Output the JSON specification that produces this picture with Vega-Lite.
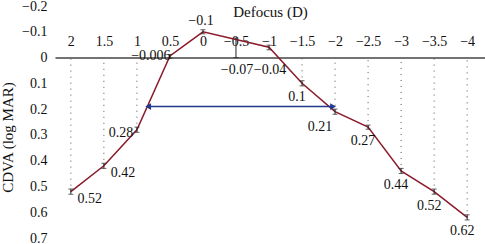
{
  "$schema": "https://vega.github.io/schema/vega-lite/v6.json",
  "width": 430,
  "height": 232,
  "autosize": "none",
  "padding": {"left": 55, "top": 6, "right": 0, "bottom": 6},
  "background": "white",
  "config": {
    "view": {"stroke": null},
    "font": "Liberation Serif",
    "text": {"font": "Liberation Serif", "fontSize": 14, "color": "#111"}
  },
  "resolve": {"axis": {"x": "independent", "y": "independent"}},
  "datasets": {
    "pts": [
      {"d": 2, "v": 0.52, "lo": 0.51, "hi": 0.53},
      {"d": 1.5, "v": 0.42, "lo": 0.41, "hi": 0.43},
      {"d": 1, "v": 0.28, "lo": 0.27, "hi": 0.29},
      {"d": 0.5, "v": -0.006, "lo": -0.012, "hi": 0.002},
      {"d": 0, "v": -0.1, "lo": -0.108, "hi": -0.092},
      {"d": -0.5, "v": -0.07, "lo": -0.076, "hi": 0},
      {"d": -1, "v": -0.04, "lo": -0.048, "hi": -0.03},
      {"d": -1.5, "v": 0.1, "lo": 0.09, "hi": 0.11},
      {"d": -2, "v": 0.21, "lo": 0.2, "hi": 0.22},
      {"d": -2.5, "v": 0.27, "lo": 0.262, "hi": 0.278},
      {"d": -3, "v": 0.44, "lo": 0.43, "hi": 0.45},
      {"d": -3.5, "v": 0.52, "lo": 0.51, "hi": 0.53},
      {"d": -4, "v": 0.62, "lo": 0.61, "hi": 0.63}
    ],
    "arrow": [{"x1": 0.83, "x2": -1.97, "y": 0.19}]
  },
  "layer": [
    {
      "data": {"name": "pts"},
      "mark": {"type": "line", "color": "#8B1A2B", "strokeWidth": 1.5},
      "encoding": {
        "x": {
          "field": "d", "type": "quantitative",
          "scale": {"domain": [2.24, -4.27], "nice": false, "zero": false},
          "axis": {
            "orient": "top", "offset": -51.6,
            "values": [2, 1.5, 1, 0.5, 0, -0.5, -1, -1.5, -2, -2.5, -3, -3.5, -4],
            "format": "~g", "grid": false, "ticks": false,
            "domainColor": "#444", "domainWidth": 1.5,
            "labelFont": "Liberation Serif", "labelFontSize": 14, "labelColor": "#111",
            "labelPadding": 9, "labelFlush": false, "labelOverlap": false,
            "title": "Defocus (D)", "titleFont": "Liberation Serif", "titleFontSize": 15,
            "titleFontWeight": "normal", "titleColor": "#111", "titlePadding": 15
          }
        },
        "y": {
          "field": "v", "type": "quantitative",
          "scale": {"domain": [-0.2, 0.7], "reverse": true, "nice": false, "zero": false},
          "axis": {
            "values": [-0.2, -0.1, 0, 0.1, 0.2, 0.3, 0.4, 0.5, 0.6, 0.7],
            "format": "~g", "grid": false, "ticks": false, "domain": false,
            "labelFont": "Liberation Serif", "labelFontSize": 14, "labelColor": "#111",
            "labelPadding": 8, "labelOverlap": false,
            "title": "CDVA (log MAR)", "titleFont": "Liberation Serif", "titleFontSize": 15,
            "titleFontWeight": "normal", "titleColor": "#111", "titlePadding": 6, "titleY": 131
          }
        }
      }
    },
    {
      "data": {"name": "pts"},
      "transform": [{"filter": "datum.v > 0"}],
      "mark": {"type": "rule", "color": "#555", "strokeDash": [1, 5], "strokeWidth": 1},
      "encoding": {
        "x": {"field": "d", "type": "quantitative", "axis": null},
        "y": {"field": "v", "type": "quantitative", "axis": null},
        "y2": {"datum": 0}
      }
    },
    {
      "data": {"name": "pts"},
      "mark": {"type": "rule", "color": "#222", "strokeWidth": 1},
      "encoding": {
        "x": {"field": "d", "type": "quantitative", "axis": null},
        "y": {"field": "lo", "type": "quantitative", "axis": null},
        "y2": {"field": "hi"}
      }
    },
    {
      "data": {"name": "pts"},
      "mark": {"type": "tick", "orient": "horizontal", "color": "#222", "size": 5, "thickness": 1},
      "encoding": {
        "x": {"field": "d", "type": "quantitative", "axis": null},
        "y": {"field": "lo", "type": "quantitative", "axis": null}
      }
    },
    {
      "data": {"name": "pts"},
      "mark": {"type": "tick", "orient": "horizontal", "color": "#222", "size": 5, "thickness": 1},
      "encoding": {
        "x": {"field": "d", "type": "quantitative", "axis": null},
        "y": {"field": "hi", "type": "quantitative", "axis": null}
      }
    },
    {
      "data": {"name": "arrow"},
      "mark": {"type": "rule", "color": "#1F3A8F", "strokeWidth": 1.5},
      "encoding": {
        "x": {"field": "x1", "type": "quantitative", "axis": null},
        "x2": {"field": "x2"},
        "y": {"field": "y", "type": "quantitative", "axis": null}
      }
    },
    {
      "data": {"name": "arrow"},
      "mark": {"type": "point", "shape": "triangle-left", "filled": true, "size": 45, "color": "#1F3A8F", "opacity": 1},
      "encoding": {
        "x": {"field": "x1", "type": "quantitative", "axis": null},
        "y": {"field": "y", "type": "quantitative", "axis": null}
      }
    },
    {
      "data": {"name": "arrow"},
      "mark": {"type": "point", "shape": "triangle-right", "filled": true, "size": 45, "color": "#1F3A8F", "opacity": 1},
      "encoding": {
        "x": {"field": "x2", "type": "quantitative", "axis": null},
        "y": {"field": "y", "type": "quantitative", "axis": null}
      }
    },
    {
      "data": {"name": "pts"},
      "transform": [{"filter": "datum.d == 2 || datum.d == 1.5"}],
      "mark": {"type": "text", "dx": 19, "dy": 7},
      "encoding": {
        "x": {"field": "d", "type": "quantitative", "axis": null},
        "y": {"field": "v", "type": "quantitative", "axis": null},
        "text": {"field": "v", "type": "quantitative", "format": "~g"}
      }
    },
    {
      "data": {"name": "pts"},
      "transform": [{"filter": "datum.d == 1"}],
      "mark": {"type": "text", "dx": -16, "dy": 3},
      "encoding": {
        "x": {"field": "d", "type": "quantitative", "axis": null},
        "y": {"field": "v", "type": "quantitative", "axis": null},
        "text": {"field": "v", "type": "quantitative", "format": "~g"}
      }
    },
    {
      "data": {"name": "pts"},
      "transform": [{"filter": "datum.d == 0.5"}],
      "mark": {"type": "text", "dx": -19, "dy": 0},
      "encoding": {
        "x": {"field": "d", "type": "quantitative", "axis": null},
        "y": {"field": "v", "type": "quantitative", "axis": null},
        "text": {"field": "v", "type": "quantitative", "format": "~g"}
      }
    },
    {
      "data": {"name": "pts"},
      "transform": [{"filter": "datum.d == 0"}],
      "mark": {"type": "text", "dx": -2, "dy": -11},
      "encoding": {
        "x": {"field": "d", "type": "quantitative", "axis": null},
        "y": {"field": "v", "type": "quantitative", "axis": null},
        "text": {"field": "v", "type": "quantitative", "format": "~g"}
      }
    },
    {
      "data": {"name": "pts"},
      "transform": [{"filter": "datum.d == -0.5 || datum.d == -1"}],
      "mark": {"type": "text", "dx": 1, "baseline": "middle"},
      "encoding": {
        "x": {"field": "d", "type": "quantitative", "axis": null},
        "y": {"datum": 0.05, "type": "quantitative", "axis": null},
        "text": {"field": "v", "type": "quantitative", "format": "~g"}
      }
    },
    {
      "data": {"name": "pts"},
      "transform": [{"filter": "datum.d == -1.5"}],
      "mark": {"type": "text", "dx": -5, "dy": 14},
      "encoding": {
        "x": {"field": "d", "type": "quantitative", "axis": null},
        "y": {"field": "v", "type": "quantitative", "axis": null},
        "text": {"field": "v", "type": "quantitative", "format": "~g"}
      }
    },
    {
      "data": {"name": "pts"},
      "transform": [{"filter": "datum.d == -2"}],
      "mark": {"type": "text", "dx": -15, "dy": 15},
      "encoding": {
        "x": {"field": "d", "type": "quantitative", "axis": null},
        "y": {"field": "v", "type": "quantitative", "axis": null},
        "text": {"field": "v", "type": "quantitative", "format": "~g"}
      }
    },
    {
      "data": {"name": "pts"},
      "transform": [{"filter": "datum.d <= -2.5"}],
      "mark": {"type": "text", "dx": -5, "dy": 14},
      "encoding": {
        "x": {"field": "d", "type": "quantitative", "axis": null},
        "y": {"field": "v", "type": "quantitative", "axis": null},
        "text": {"field": "v", "type": "quantitative", "format": "~g"}
      }
    }
  ]
}
